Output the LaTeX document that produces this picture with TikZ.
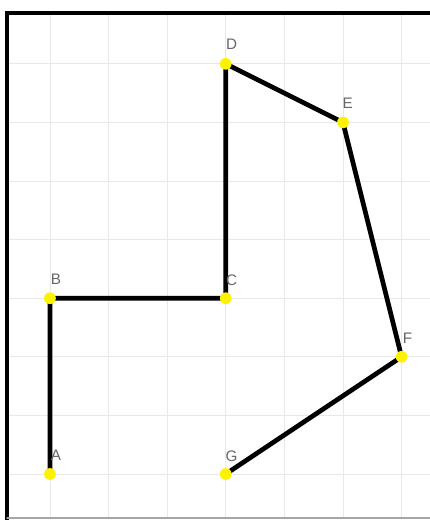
\documentclass[tikz,border=0pt]{standalone}
\usepackage{fontspec}
\setmainfont{Liberation Sans}

\begin{document}
\begin{tikzpicture}[
  line cap=round,
  line join=round,
  x=1cm,
  y=1cm,
  dot/.style={circle, fill=yellow, inner sep=0pt, minimum size=0.2cm},
  lbl/.style={text=black!60, font=\fontsize{7.4}{9}\selectfont, inner sep=0pt},
  edge/.style={line width=2.3pt, black},
]

  \useasboundingbox (-0.853,-0.785) rectangle (6.485,8.089);

  % grid inside the frame
  \begin{scope}
    \clip (-0.734,-0.751) rectangle (6.485,7.867);
    \draw[black!9, line width=0.4pt] (-1,-1) grid (7,9);
  \end{scope}

  % frame
  \draw[line width=1.7pt, line cap=butt, line join=miter] (-0.734,-0.785) -- (-0.734,7.867) -- (6.485,7.867);
  \draw[black!35, line width=0.5pt] (-0.734,-0.751) -- (6.485,-0.751);

  \coordinate (A) at (0,0);
  \coordinate (B) at (0,3);
  \coordinate (C) at (3,3);
  \coordinate (D) at (3,7);
  \coordinate (E) at (5,6);
  \coordinate (F) at (6,2);
  \coordinate (G) at (3,0);

  \draw[edge] (A) -- (B) -- (C) -- (D) -- (E) -- (F) -- (G);

  \node[dot] (dA) at (A) {};
  \node[dot] (dB) at (B) {};
  \node[dot] (dC) at (C) {};
  \node[dot] (dD) at (D) {};
  \node[dot] (dE) at (E) {};
  \node[dot] (dF) at (F) {};
  \node[dot] (dG) at (G) {};

  \node[lbl] (lA) at (0.1,0.32) {A};
  \node[lbl] (lB) at (0.1,3.33) {B};
  \node[lbl] (lC) at (3.1,3.3) {C};
  \node[lbl] (lD) at (3.1,7.33) {D};
  \node[lbl] (lE) at (5.08,6.32) {E};
  \node[lbl] (lF) at (6.1,2.32) {F};
  \node[lbl] (lG) at (3.1,0.3) {G};

\end{tikzpicture}
\end{document}
